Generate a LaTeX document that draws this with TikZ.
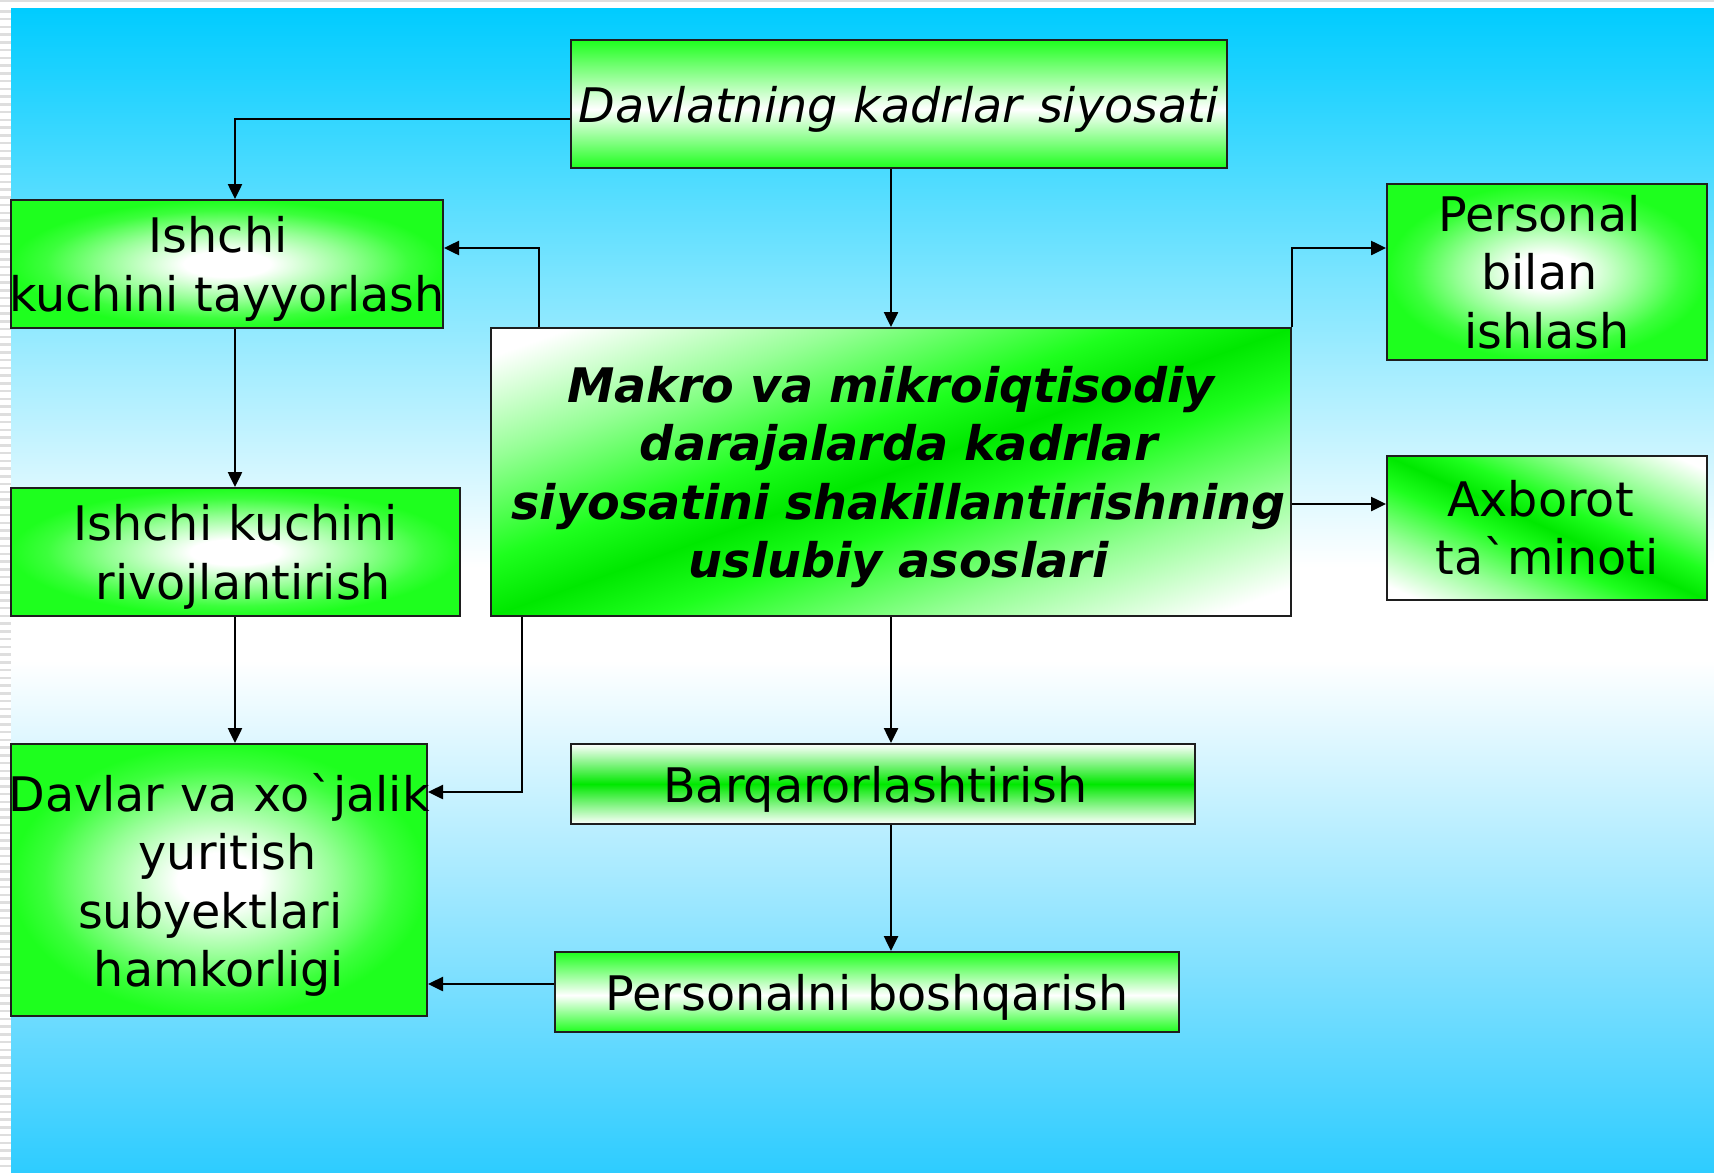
\documentclass[tikz,border=0pt]{standalone}
\usepackage{fontspec}
\setmainfont{DejaVu Sans}[Ligatures=TeXOff]
\usetikzlibrary{arrows.meta,shadings,calc}
\definecolor{grn}{RGB}{30,255,30}
\definecolor{grnD}{RGB}{0,232,0}
\definecolor{grnA}{RGB}{150,255,150}
\definecolor{grnB}{RGB}{60,255,60}
\definecolor{bgT}{RGB}{0,204,255}
\definecolor{bgB}{RGB}{45,204,255}
\definecolor{stripe}{RGB}{222,222,222}
\definecolor{bordc}{RGB}{30,30,30}
\pgfdeclareverticalshading{bgsh}{100bp}{color(0bp)=(bgB); color(25bp)=(bgB); color(47bp)=(white); color(51bp)=(white); color(75bp)=(bgT); color(100bp)=(bgT)}
\pgfdeclareverticalshading{gwg}{100bp}{color(0bp)=(grn); color(25bp)=(grn); color(48bp)=(white); color(75bp)=(grn); color(100bp)=(grn)}
\pgfdeclareverticalshading{wgw}{100bp}{color(0bp)=(white); color(25bp)=(white); color(50bp)=(grnD); color(75bp)=(white); color(100bp)=(white)}
\pgfdeclareverticalshading{diag}{100bp}{color(0bp)=(white); color(32bp)=(white); color(39bp)=(grnA); color(46bp)=(grn); color(50bp)=(grnD); color(54bp)=(grn); color(61bp)=(grnA); color(68bp)=(white); color(100bp)=(white)}
\pgfdeclareradialshading{rad}{\pgfpoint{0bp}{0bp}}{color(0bp)=(white); color(5bp)=(white); color(14bp)=(grnA); color(21bp)=(grnB); color(25bp)=(grn); color(50bp)=(grn)}
\newcommand\fs{\fontsize{23.8pt}{29.2pt}\selectfont}
\newcommand\nd[1]{\raisebox{0pt}[\height][0pt]{#1}}
\newcommand\sh[2]{\makebox[0pt]{\hspace*{#1}#2}}
\begin{document}
\begin{tikzpicture}[x=0.5pt,y=-0.5pt,
  box/.style={draw=bordc,line width=1pt,inner sep=0pt,align=center,font=\fs},
  diagpic/.style 2 args={path picture={
    \shade[shading=diag,transform canvas={rotate around={#1:(path picture bounding box.center)}}]
      ($(path picture bounding box.center)+(-480,-#2)$) rectangle ($(path picture bounding box.center)+(480,#2)$);}},
  arr/.style={draw=black,line width=1.25pt,-{Triangle[length=7.5pt,width=7pt]}}]
\useasboundingbox (0,0) rectangle (1714,1173);
\fill[white] (0,0) rectangle (1714,1173);
\fill[stripe] (0,0) rectangle (1714,2);
\foreach \i in {0,...,149} \fill[stripe] (0,{10+7.75*\i}) rectangle (11,{12.5+7.75*\i});
\shade[shading=bgsh] (11,8) rectangle (1714,1173);

\node[box,shading=gwg,text width=328pt,minimum height=64pt,font=\fs\itshape] (top) at (899,104) {\nd{Davlatning kadrlar siyosati}};
\node[box,shading=rad,text width=216pt,minimum height=64pt] (tay) at (227,264) {\sh{-8.8pt}{Ishchi}\\\nd{\makebox[0pt]{kuchini tayyorlash}}};
\node[box,shading=rad,text width=224.5pt,minimum height=64pt] (riv) at (235.5,552) {Ishchi kuchini\\\nd{\sh{7.7pt}{rivojlantirish}}};
\node[box,shading=rad,text width=208pt,minimum height=136pt] (dav) at (219,880) {\makebox[0pt]{Davlar va xo`jalik}\\\sh{8.8pt}{yuritish}\\\sh{-8.8pt}{subyektlari}\\\nd{hamkorligi}};
\node[box,diagpic={19.8}{339},text width=400pt,minimum height=144pt,font=\fs\bfseries\itshape] (mak) at (891,472) {Makro va mikroiqtisodiy\\\sh{7.7pt}{darajalarda kadrlar}\\\sh{7.7pt}{siyosatini shakillantirishning}\\\nd{\sh{7.7pt}{uslubiy asoslari}}};
\node[box,shading=rad,text width=160pt,minimum height=88pt] (per) at (1547,272) {\sh{-7.7pt}{Personal}\\\sh{-7.7pt}{bilan}\\ishlash};
\node[box,diagpic={-24.2}{164},text width=160pt,minimum height=72pt] (axb) at (1547,528) {\sh{-6.6pt}{Axborot}\\ta`minoti};
\node[box,shading=wgw,text width=312pt,minimum height=40pt] (bar) at (883,784) {\nd{\sh{-7.7pt}{Barqarorlashtirish}}};
\node[box,shading=gwg,text width=312pt,minimum height=40pt] (pbo) at (867,992) {\nd{Personalni boshqarish}};

\coordinate (cL) at (235,0);
\draw[arr] ([yshift=-7.5pt]top.west) -| (cL |- tay.north);
\draw[arr] (top.south -| mak.north) -- (mak.north);
\draw[arr] ([xshift=24.5pt]mak.north west) |- ([yshift=8pt]tay.east);
\draw[arr] (mak.north east) |- ([yshift=12pt]per.west);
\draw[arr] ([yshift=12pt]axb.west -| mak.east) -- ([yshift=12pt]axb.west);
\draw[arr] (cL |- tay.south) -- (cL |- riv.north);
\draw[arr] (cL |- riv.south) -- (cL |- dav.north);
\draw[arr] ([xshift=16pt]mak.south west) |- ([yshift=44pt]dav.east);
\draw[arr] (mak.south) -- (mak.south |- bar.north);
\draw[arr] (mak.south |- bar.south) -- (mak.south |- pbo.north);
\draw[arr] ([yshift=4pt]pbo.west) -- ([yshift=4pt]pbo.west -| dav.east);
\end{tikzpicture}
\end{document}
